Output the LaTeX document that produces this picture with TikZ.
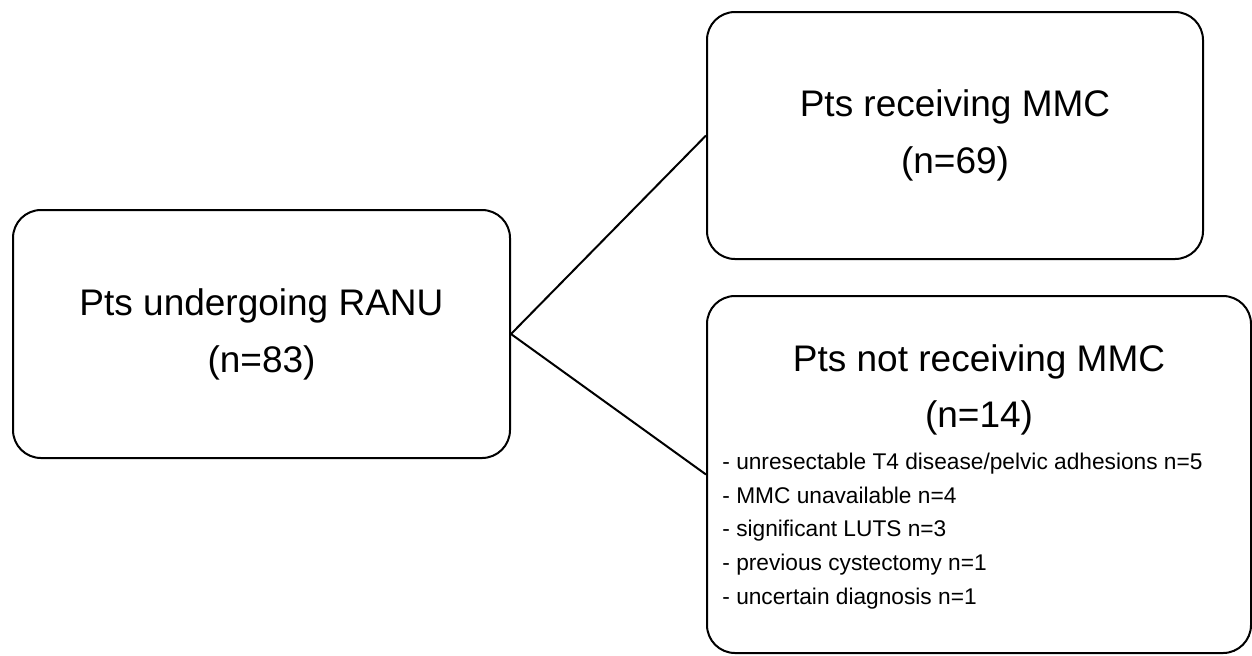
\documentclass[tikz,border=0pt]{standalone}
\usepackage{fontspec}
\setmainfont{Liberation Sans}
\usetikzlibrary{positioning}

\begin{document}
\begin{tikzpicture}[
  x=0.5pt, y=-0.5pt,
  box/.style={rectangle, draw, line width=1pt, rounded corners=14pt, align=center,
              inner sep=0pt, font=\fontsize{18.5pt}{28.5pt}\selectfont},
  txt/.style={inner sep=0pt},
  link/.style={line width=1pt}
]
  \useasboundingbox (0,0) rectangle (1252,655);
  \node[box, minimum width=248.5pt, minimum height=124pt] (ranu) at (261.5,334)
    {Pts undergoing RANU\\(n=83)};
  \node[box, minimum width=248pt, minimum height=123.5pt] (mmc) at (955,135.5)
    {Pts receiving MMC\\(n=69)};
  \node[box, minimum width=272pt, minimum height=178.5pt] (nommc) at (979,474.5) {};
  \node[txt, align=center, font=\fontsize{18.5pt}{28pt}\selectfont,
        below=24.5pt of nommc.north] (nommctitle) {Pts not receiving MMC\\(n=14)};
  \node[txt, anchor=north west, align=left, font=\fontsize{11.35pt}{16.85pt}\selectfont]
    (reasons) at (722,452.5)
    {- unresectable T4 disease/pelvic adhesions n=5\\
     - MMC unavailable n=4\\
     - significant LUTS n=3\\
     - previous cystectomy n=1\\
     - uncertain diagnosis n=1};
  \draw[link] (ranu.east) -- (mmc.west);
  \draw[link] (ranu.east) -- (nommc.west);
\end{tikzpicture}
\end{document}
